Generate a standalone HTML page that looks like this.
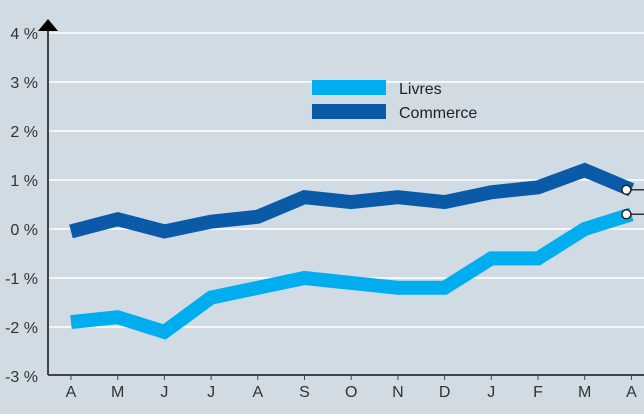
<!DOCTYPE html>
<html><head><meta charset="utf-8"><style>
body{margin:0;background:#d0dbe4;}
svg{display:block;font-family:"Liberation Sans",sans-serif;}
</style></head><body>
<svg id="c" width="644" height="414">
<rect width="644" height="414" fill="#d0dbe4"/>
<g id="grid"></g><g id="series"></g><g id="axes"></g>
<g>
<rect x="312" y="80" width="74" height="15" fill="#00aeef"/>
<text x="399" y="94" font-size="16" fill="#222">Livres</text>
<rect x="312" y="104" width="74" height="15" fill="#0a5aa8"/>
<text x="399" y="118" font-size="16" fill="#222">Commerce</text>
</g>
</svg>
<script>
const categories=["A","M","J","J","A","S","O","N","D","J","F","M","A"];
const commerce=[-0.05,0.2,-0.05,0.15,0.25,0.65,0.55,0.65,0.55,0.75,0.85,1.2,0.8];
const livres=[-1.9,-1.8,-2.1,-1.4,-1.2,-1.0,-1.1,-1.2,-1.2,-0.6,-0.6,0.0,0.3];
const yTicks=[4,3,2,1,0,-1,-2,-3];
const NS="http://www.w3.org/2000/svg";
const y=v=>229-v*49;
const x=i=>71+i*46.7;
function mk(tag,attrs,parent){const e=document.createElementNS(NS,tag);for(const k in attrs)e.setAttribute(k,attrs[k]);parent.appendChild(e);return e;}
const grid=document.getElementById('grid'),axes=document.getElementById('axes'),ser=document.getElementById('series');
yTicks.forEach(t=>{
 if(t>-3){const l=mk('line',{x1:48,x2:644,y1:y(t),y2:y(t),stroke:'#fff','stroke-width':1.5},grid);
 
 }
 const tx=mk('text',{x:38,y:y(t)+6,'font-size':16,fill:'#333','text-anchor':'end'},axes);
 tx.textContent=t+' %';
 
 
});
categories.forEach((c,i)=>{
 const tx=mk('text',{x:x(i),y:397,'font-size':16,fill:'#333','text-anchor':'middle'},axes);
 tx.textContent=c;
 
 
 const tk=mk('line',{x1:x(i),x2:x(i),y1:375,y2:380,stroke:'#444','stroke-width':1},axes);
 
 
});
const xa=mk('line',{x1:48,x2:644,y1:375,y2:375,stroke:'#444','stroke-width':2},axes);


const ya=mk('line',{x1:48,x2:48,y1:28,y2:375,stroke:'#444','stroke-width':2},axes);


const ar=mk('polygon',{points:'38,31 58,31 48,19',fill:'#000'},axes);


function draw(vals,color,name){
 const pts=vals.map((v,i)=>x(i)+','+y(v)).join(' ');
 const p=mk('polyline',{points:pts,fill:'none',stroke:color,'stroke-width':14,'stroke-linejoin':'miter'},ser);
 
 
 const n=vals.length-1,cy=y(vals[n]);
 const l=mk('line',{x1:x(n)-5,x2:644,y1:cy,y2:cy,stroke:'#333','stroke-width':1.5},ser);
 
 
 const c=mk('circle',{cx:x(n)-5,cy:cy,r:4.5,fill:'#fff',stroke:'#222','stroke-width':1.5},ser);
 
 
}
draw(livres,'#00aeef','livres');
draw(commerce,'#0a5aa8','commerce');
</script>
</body></html>
